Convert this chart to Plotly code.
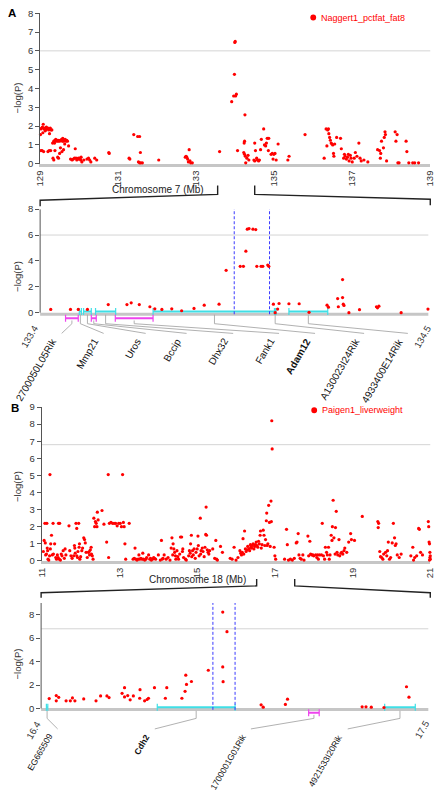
import plotly.graph_objects as go

# ---------------- DATA ----------------
# Panel A, overview (Chromosome 7, Mb) : Naggert1_pctfat_fat8
a_top_mb = [129.01,129.02,129.04,129.06,129.08,129.1,129.12,129.14,129.16,129.18,129.2,129.22,129.24,129.26,129.28,129.3,129.07,129.13,
            129.02,129.05,129.09,129.2,129.23,129.27,
            129.32,129.35,129.37,129.38,129.4,129.42,129.44,129.46,129.48,129.5,129.53,129.55,129.57,129.58,129.6,129.62,129.64,129.66,129.68,129.7,129.73,
            129.33,129.35,129.38,129.45,129.47,129.5,129.52,129.56,129.6,129.63,
            129.78,129.82,129.85,129.88,129.9,129.92,129.94,129.96,129.98,130.0,130.02,130.04,130.05,130.07,130.12,130.2,130.24,130.27,130.3,130.4,130.45,130.76,130.77,
            131.28,131.3,131.4,131.5,131.55,131.57,131.52,131.55,131.58,131.62,132.04,
            132.72,132.74,132.76,132.78,132.8,132.82,132.84,132.86,132.9,
            133.6,133.91,133.96,133.98,133.99,134.0,134.01,134.03,134.06,
            134.23,134.25,134.24,134.22,134.24,134.26,134.3,134.33,134.35,134.27,
            134.5,134.52,134.55,134.57,134.6,134.48,134.5,134.62,134.65,134.67,134.73,134.75,134.78,134.8,134.82,134.86,134.85,134.92,134.95,134.97,134.99,135.02,135.05,135.1,135.35,135.38,
            135.79,
            136.28,136.33,136.35,136.37,136.39,136.4,136.42,136.44,136.46,136.48,136.5,136.52,136.53,136.55,136.6,136.7,136.72,136.78,136.8,136.82,136.85,136.88,136.9,136.92,136.95,136.97,137.0,137.05,137.08,137.12,137.17,137.2,137.23,137.3,137.4,
            137.65,137.7,137.72,137.73,137.75,137.8,137.82,137.84,137.85,137.88,138.1,138.12,138.15,138.17,138.2,138.38,138.4,138.45,138.55,138.6,138.7]
a_top_logp = [1.55,1.85,1.9,1.95,2.1,1.85,1.9,1.8,1.95,1.85,1.9,1.8,1.6,1.9,1.8,1.8,1.65,1.75,
              0.7,0.7,0.65,0.65,0.7,0.7,
              1.1,1.2,1.1,1.25,1.3,1.2,1.25,1.2,1.25,1.2,1.25,1.3,1.2,1.35,1.2,1.25,1.3,1.2,1.25,1.2,0.95,
              0.3,0.2,0.7,0.35,0.3,0.55,0.85,0.65,0.75,1.05,
              0.25,0.2,0.25,0.3,0.8,0.3,0.2,0.25,0.3,0.25,0.3,0.2,0.35,0.1,0.2,0.25,0.3,0.2,0.1,0.3,0.2,0.6,0.55,
              0.3,0.25,1.55,1.45,1.45,0.6,0.1,0.05,0.05,0.05,0.2,
              0.35,0.4,0.35,0.25,0.1,0.75,0.15,0.05,0.05,
              0.65,3.3,3.6,4.75,6.45,6.5,3.6,3.7,0.7,
              1.1,2.6,1.2,0.6,0.5,0.4,0.3,0.45,0.2,0.05,
              1.1,0.7,0.3,0.2,0.15,0.2,0.15,0.2,0.75,1.3,1.85,1.0,0.95,1.1,1.35,1.35,0.7,0.5,0.55,0.25,0.5,0.55,0.2,1.05,0.2,0.4,
              1.55,
              0.3,1.85,0.95,1.8,1.85,1.6,1.4,1.25,1.1,1.05,1.0,0.55,0.4,1.05,1.4,1.35,0.8,0.3,0.5,0.4,0.25,0.35,0.5,0.15,0.45,0.3,0.1,0.3,0.6,0.4,1.1,0.3,0.15,0.2,0.1,
              0.75,0.7,0.3,0.55,1.2,0.85,1.4,1.7,1.55,0.15,1.7,1.2,1.55,0.05,0.05,1.2,0.65,0.05,0.05,0.05,0.05]

# Panel A, zoom 133.4-134.5 Mb
a_zoom_mb = [133.43,133.486,133.508,133.534,133.593,133.646,133.658,133.681,133.711,133.725,133.745,133.773,133.801,133.836,133.865,133.907,
             133.927,133.967,133.976,133.983,133.987,133.992,134.003,134.011,134.014,134.026,134.031,134.045,134.048,
             134.061,134.066,134.073,134.077,134.105,134.134,134.162,134.213,134.217,134.243,134.257,134.257,134.259,134.261,134.245,134.275,134.305,134.353,134.356,134.36,134.423,134.499]
a_zoom_logp = [0.25,0.25,0.25,0.25,0.63,0.63,0.76,0.63,0.46,0.3,0.25,0.3,0.15,0.33,0.58,0.66,
               3.27,3.58,3.58,4.75,6.45,6.5,6.45,6.42,3.58,3.58,3.58,3.68,3.58,
               0.66,0.0,0.28,0.71,0.69,0.69,0.03,0.58,0.43,1.09,1.17,2.56,0.66,0.56,0.46,0.0,0.23,0.46,0.38,0.5,0.0,0.28]

a_gene_names = ["2700050L05Rik","Mmp21","Uros","Bccip","Dhx32","Fank1","Adam12","A130023I24Rik","4933400E14Rik"]
a_gene_start = [133.472,133.511,133.523,133.545,133.557,133.613,133.720,134.064,134.105]
a_gene_end   = [133.508,133.517,133.545,133.559,133.614,133.720,134.068,134.068,134.215]
a_gene_strand = ["-","+","+","-","+","-","+","+","+"]
a_gene_bold = ["Adam12"]
a_interval = [133.95, 134.05]
a_threshold = 6.0

# Panel B, overview (Chromosome 18, Mb) : Paigen1_liverweight
b_top = [(11.04,0.55),(11.06,1.2),(11.08,2.2),(11.09,1.05),(11.1,0.35),(11.12,0.4),(11.13,2.2),(11.14,0.75),(11.15,0.6),(11.16,0.1),(11.18,0.05),(11.2,0.3),(11.21,5.05),(11.22,0.7),(11.23,1.0),(11.25,1.5),(11.27,0.35),(11.29,2.2),(11.3,0.4),(11.33,1.0),(11.36,0.2),(11.38,0.1),(11.4,0.35),(11.42,0.2),(11.43,2.2),(11.45,0.1),(11.46,2.2),(11.48,0.05),(11.5,0.4),(11.52,0.3),(11.55,0.6),(11.58,0.15),(11.6,0.7),(11.62,0.35),(11.7,2.05),(11.72,0.6),(11.75,0.3),(11.78,0.15),
         (11.82,0.3),(11.84,0.9),(11.85,0.75),(11.86,0.45),(11.88,2.2),(11.9,1.9),(11.9,0.3),(11.92,0.2),(11.93,0.55),(11.95,2.2),(11.96,0.8),(11.97,1.0),(11.98,0.1),(12.0,0.25),(12.03,0.6),(12.05,0.75),(12.08,1.35),(12.1,1.25),(12.12,1.05),(12.14,0.5),(12.17,0.2),(12.2,0.5),(12.22,0.55),(12.23,0.35),(12.25,0.65),(12.27,0.8),(12.28,0.4),(12.3,0.3),(12.32,0.1),
         (12.34,2.5),(12.36,2.0),(12.38,2.3),(12.4,2.2),(12.42,2.0),(12.43,2.85),(12.45,2.4),(12.55,2.95),(12.6,2.15),(12.67,1.1),(12.71,5.05),(12.72,0.2),(12.74,2.2),(12.78,2.25),(12.82,2.2),(12.86,2.2),(12.9,2.2),(12.94,2.05),(12.98,2.2),(13.02,2.2),(13.05,2.0),(13.08,5.05),(13.1,2.25),(13.12,2.0),(13.14,1.0),(13.16,0.1),(13.25,2.2),
         (13.35,0.1),(13.38,0.15),(13.4,0.75),(13.42,0.1),(13.45,0.05),(13.48,0.1),(13.5,0.35),(13.52,0.1),(13.55,0.15),(13.58,0.1),(13.6,0.45),(13.62,0.1),(13.65,0.05),(13.68,0.1),(13.7,0.2),(13.75,0.35),(13.78,0.1),(13.8,0.15),(13.82,0.05),(13.85,0.1),(13.88,0.2),(13.9,0.15),(13.93,0.1),(14.0,0.35),
         (14.05,0.05),(14.08,1.2),(14.1,0.1),(14.12,0.15),(14.15,0.35),(14.2,0.1),(14.25,0.2),(14.3,0.05),(14.33,0.75),(14.35,1.35),(14.37,0.35),(14.38,1.0),(14.4,0.7),(14.42,0.5),(14.44,0.3),(14.45,0.1),(14.48,0.6),(14.5,0.25),(14.52,0.1),(14.55,0.4),(14.57,1.4),(14.6,1.4),(14.62,0.55),(14.63,0.7),(14.65,0.2),(14.7,0.1),(14.72,0.05),
         (14.78,0.3),(14.8,0.6),(14.82,0.45),(14.83,1.0),(14.85,1.5),(14.86,0.25),(14.88,0.6),(14.9,0.35),(14.92,0.7),(14.95,0.15),(14.97,0.5),(15.0,0.7),(15.02,1.45),(15.03,0.9),(15.05,0.3),(15.08,2.5),(15.09,0.4),(15.1,0.6),(15.13,0.75),(15.15,0.55),(15.18,0.25),(15.2,0.8),(15.22,1.55),(15.23,3.15),(15.24,1.5),(15.26,0.65),(15.28,0.5),(15.3,0.4),(15.32,0.6),
         (15.4,0.7),(15.45,0.15),(15.48,1.2),(15.5,0.1),(15.52,0.05),(15.6,0.85),(15.65,0.5),
         (15.85,0.15),(15.9,0.1),(15.95,0.8),(16.0,0.05),(16.05,0.2),(16.1,0.6),(16.12,0.45),(16.14,0.35),(16.16,0.5),(16.18,1.3),(16.2,0.4),(16.22,1.75),(16.24,0.7),(16.26,0.55),(16.28,0.65),(16.3,0.85),(16.33,0.7),(16.35,0.6),(16.37,0.95),(16.38,0.8),(16.4,0.75),(16.42,0.9),(16.44,1.0),(16.46,0.7),(16.48,0.85),(16.5,0.95),(16.52,1.1),(16.54,0.9),(16.56,0.8),(16.58,1.15),(16.6,1.0),(16.62,1.5),(16.63,1.75),(16.65,0.75),(16.67,0.95),(16.7,1.8),(16.72,1.5),(16.74,0.9),(16.76,1.25),(16.78,2.35),(16.79,2.8),(16.8,0.9),(16.82,1.0),(16.84,3.25),(16.86,2.25),(16.88,0.85),(16.92,8.2),(16.93,6.55),(16.9,3.5),(16.91,2.3),(16.98,0.8),(17.0,0.3),(17.02,0.1),
         (17.3,1.85),(17.32,0.95),(17.25,0.1),(17.35,0.05),(17.4,0.1),(17.45,0.05),(17.5,0.15),(17.55,1.05),(17.57,1.1),(17.6,1.6),(17.62,0.35),(17.65,0.15),(17.68,0.1),(17.72,0.35),(17.75,0.05),(17.85,1.45),(17.87,0.3),(17.9,1.15),(17.92,0.4),(17.95,0.35),(17.98,0.35),(18.0,0.3),(18.05,0.35),(18.08,0.2),(18.1,0.35),(18.12,0.1),(18.15,0.35),(18.2,0.35),(18.22,2.2),(18.25,0.3),(18.28,0.1),(18.3,0.8),(18.33,0.5),(18.35,0.35),(18.38,0.8),(18.4,0.1),(18.42,0.35),(18.45,1.5),(18.47,1.2),(18.48,2.0),(18.5,3.55),(18.52,1.35),(18.55,0.4),(18.56,1.95),(18.58,2.9),(18.6,0.5),(18.62,0.35),(18.65,1.25),(18.67,0.3),(18.7,0.45),(18.72,0.5),(18.75,0.4),(18.78,0.6),(18.8,0.75),(18.85,0.5),(18.9,1.1),(18.95,1.6),(18.97,1.25),(19.05,1.2),(19.25,2.6),
         (19.65,2.3),(19.67,2.2),(19.66,1.95),(19.7,0.55),(19.72,0.25),(19.75,0.2),(19.78,0.1),(19.8,0.4),(19.85,0.5),(19.88,0.3),(19.9,0.6),(19.92,1.1),(19.95,0.1),(19.98,0.2),(20.02,1.05),(20.05,2.2),(20.08,1.35),(20.1,0.9),(20.12,1.0),(20.15,0.35),(20.2,0.2),(20.25,0.4),(20.5,0.3),(20.55,0.8),(20.57,0.05),(20.6,0.2),(20.65,0.3),(20.7,1.9),(20.72,1.85),(20.75,0.5),(20.8,0.35),(20.95,2.3),(20.96,2.0),(20.97,1.1),(20.98,1.0),(20.99,0.5),(21.0,0.3),(20.99,0.2),(21.0,0.1),(20.98,0.05)]
b_top_mb = [p[0] for p in b_top]
b_top_logp = [p[1] for p in b_top]

# Panel B, zoom 16.4-17.5 Mb
b_zoom_mb = [16.423,16.443,16.443,16.45,16.471,16.483,16.489,16.496,16.521,16.556,16.569,16.587,16.593,16.63,16.637,16.637,16.646,16.653,16.662,16.681,16.68,16.694,16.701,16.705,
             16.722,16.753,16.757,16.8,16.809,16.811,16.813,16.827,16.875,16.916,16.916,16.917,16.928,
             17.025,17.031,17.094,17.1,17.312,17.323,17.338,17.374,17.438,17.445]
b_zoom_logp = [0.84,1.1,0.65,0.95,0.65,0.65,0.9,0.65,0.81,0.65,1.07,1.07,0.93,1.29,1.77,0.98,1.1,0.73,1.07,1.6,0.87,0.65,0.76,0.87,
               1.77,0.87,1.77,0.87,1.46,2.84,2.05,2.3,3.26,8.23,3.54,2.28,6.55,
               0.31,0.11,0.34,0.79,0.14,0.14,0.11,0.08,1.85,0.96]

b_gene_names = ["EG665509","Cdh2","1700001G01Rik","4921533I20Rik"]
b_gene_start = [16.415,16.730,17.160,17.376]
b_gene_end   = [16.419,16.951,17.190,17.463]
b_gene_strand = ["+","+","-","+"]
b_gene_bold = ["Cdh2"]
b_interval = [16.888, 16.951]
b_threshold = 6.8

a_ticks_top = [129,131,133,135,137,139]
b_ticks_top = [11,13,15,17,19,21]
a_zoom_ticks = [133.4, 134.5]
b_zoom_ticks = [16.4, 17.5]

# ---------------- LAYOUT HELPERS ----------------
W, H = 446, 794
FONT = "Liberation Sans, Arial, Helvetica, sans-serif"
def fx(px): return px / W
def fy(py): return 1 - py / H

RED = "#ff0000"
CYAN = "#3fdfe6"
MAG = "#ee44ee"
GRID = "#d4d4d4"
BASE = "#c6c6c6"
CONN = "#a8a8a8"
BLUE = "#3a3aff"

# label anchor positions (layout) in zoom-axis units
a_label_x = [133.461,133.580,133.699,133.815,133.947,134.077,134.179,134.318,134.442]
b_label_x = [16.447,16.723,16.996,17.271]

fig = go.Figure()

def add_points(x, y, xa, ya, name):
    fig.add_trace(go.Scatter(x=x, y=y, xaxis=xa, yaxis=ya, mode="markers", name=name,
                             marker=dict(color=RED, size=3.2, line=dict(width=0)),
                             cliponaxis=False, showlegend=False, hoverinfo="x+y"))

add_points(a_top_mb, a_top_logp, "x", "y", "Naggert1_pctfat_fat8")
add_points(b_top_mb, b_top_logp, "x3", "y3", "Paigen1_liverweight")

def add_genes(starts, ends, strands, xa, ya, yplus, yminus):
    for strand, col in (("+", CYAN), ("-", MAG)):
        xs, ys = [], []
        yy = yplus if strand == "+" else yminus
        for s, e, st in zip(starts, ends, strands):
            if st == strand:
                xs += [s, e, None]
                ys += [yy, yy, None]
        fig.add_trace(go.Scatter(x=xs, y=ys, xaxis=xa, yaxis=ya, mode="lines+markers",
                                 line=dict(color=col, width=2),
                                 marker=dict(symbol="line-ns-open", size=5, line=dict(color=col, width=1.2)),
                                 showlegend=False, hoverinfo="skip"))

def add_connectors(starts, ends, strands, label_x, xa, ya, y_top_plus, y_top_minus, y_knee, y_end):
    xs, ys = [], []
    for s, e, st, lx in zip(starts, ends, strands, label_x):
        m = (s + e) / 2
        y0 = y_top_plus if st == "+" else y_top_minus
        xs += [m, m, lx, None]
        ys += [y0, y_knee, y_end, None]
    fig.add_trace(go.Scatter(x=xs, y=ys, xaxis=xa, yaxis=ya, mode="lines",
                             line=dict(color=CONN, width=0.9), showlegend=False, hoverinfo="skip"))

def add_interval(iv, xa, ya, ytop):
    xs, ys = [], []
    for v in iv:
        xs += [v, v, None]
        ys += [-0.12, ytop, None]
    fig.add_trace(go.Scatter(x=xs, y=ys, xaxis=xa, yaxis=ya, mode="lines",
                             line=dict(color=BLUE, width=1, dash="3px,2px"),
                             showlegend=False, hoverinfo="skip"))

# zoom panels: connectors, genes, interval, points
add_connectors(a_gene_start, a_gene_end, a_gene_strand, a_label_x, "x2", "y2", -0.15, -0.6, -0.85, -1.6)
add_connectors(b_gene_start, b_gene_end, b_gene_strand, b_label_x, "x4", "y4", -0.2, -0.55, -0.85, -1.75)
add_genes(a_gene_start, a_gene_end, a_gene_strand, "x2", "y2", 0.1, -0.43)
add_genes(b_gene_start, b_gene_end, b_gene_strand, "x4", "y4", 0.1, -0.37)
add_interval(a_interval, "x2", "y2", 8.05)
add_interval(b_interval, "x4", "y4", 9)
add_points(a_zoom_mb, a_zoom_logp, "x2", "y2", "Naggert1_pctfat_fat8")
add_points(b_zoom_mb, b_zoom_logp, "x4", "y4", "Paigen1_liverweight")

# ---------------- AXES ----------------
tickfont = dict(family=FONT, size=9.5, color="#333")
def yax(dom, rng, tv, spine):
    return dict(domain=dom, range=rng, tickvals=tv, ticks="outside", ticklen=4, tickcolor="#555",
                tickwidth=1, showline=spine, linecolor="#555", linewidth=1, showgrid=False,
                zeroline=False, tickfont=tickfont, fixedrange=True)
def xtop(dom, rng, tv):
    return dict(domain=dom, range=rng, tickvals=tv, ticks="", tickangle=-90, showline=True,
                linecolor=BASE, linewidth=3, showgrid=False, zeroline=False, tickfont=tickfont,
                layer="below traces", fixedrange=True)
def xzoom(dom, rng):
    return dict(domain=dom, range=rng, visible=False, fixedrange=True)

fig.update_layout(
    xaxis=dict(xtop([fx(35), fx(435)], [129, 139], a_ticks_top), anchor="y"),
    yaxis=dict(yax([fy(160), fy(7.3)], [0, 8], list(range(0, 9)), True), anchor="x"),
    xaxis2=dict(xzoom([fx(35), fx(433)], [133.4, 134.5]), anchor="y2"),
    yaxis2=dict(yax([fy(337.25), fy(206)], [-2, 8], [0, 2, 4, 6, 8], False), anchor="x2"),
    xaxis3=dict(xtop([fx(36.7), fx(435)], [11, 21], b_ticks_top), anchor="y3"),
    yaxis3=dict(yax([fy(562.7), fy(406.7)], [0, 9], list(range(0, 10)), True), anchor="x3"),
    xaxis4=dict(xzoom([fx(36), fx(433)], [16.4, 17.5]), anchor="y4"),
    yaxis4=dict(yax([fy(736.05), fy(605.4)], [-2, 9], [0, 2, 4, 6, 8], False), anchor="x4"),
)

shapes = []
# threshold lines
for xa, ya, t in (("x", "y", a_threshold), ("x2", "y2", a_threshold), ("x3", "y3", b_threshold), ("x4", "y4", b_threshold)):
    shapes.append(dict(type="line", xref=f"{xa} domain", yref=ya, x0=0, x1=1, y0=t, y1=t,
                       line=dict(color=GRID, width=1), layer="below"))
# zoom panel baselines and spines
for xa, ya, yb, ytop in (("x2", "y2", -0.12, 8), ("x4", "y4", -0.1, 9)):
    shapes.append(dict(type="line", xref=f"{xa} domain", yref=ya, x0=0, x1=1, y0=yb, y1=yb,
                       line=dict(color=BASE, width=3), layer="below"))
    shapes.append(dict(type="line", xref=f"{xa} domain", yref=ya, x0=0, x1=0, y0=0, y1=ytop,
                       line=dict(color="#555", width=1)))
# zoom brackets (decoration, pixel layout)
for pts in ([(217, 182), (217, 191), (35, 197), (35, 203)],
            [(255, 182), (255, 191), (435, 196), (435, 202)],
            [(257, 581), (257, 588), (36, 595), (36, 600)],
            [(296, 581), (296, 588), (435, 595), (435, 600)]):
    path = "M " + " L ".join(f"{fx(px):.5f},{fy(py):.5f}" for px, py in pts)
    shapes.append(dict(type="path", xref="paper", yref="paper", path=path,
                       line=dict(color="#222", width=1.4)))
# legend dots
for px, py in ((315, 11.7), (316, 410)):
    r = 3
    shapes.append(dict(type="circle", xref="paper", yref="paper", x0=fx(px - r), x1=fx(px + r),
                       y0=fy(py + r), y1=fy(py - r), fillcolor=RED, line=dict(width=0)))

ann = []
def txt(text, px, py, size=10, color="#222", angle=0, xanchor="center", yanchor="middle", bold=False):
    ann.append(dict(text=(f"<b>{text}</b>" if bold else text), x=fx(px), y=fy(py), xref="paper", yref="paper",
                    showarrow=False, textangle=angle, xanchor=xanchor, yanchor=yanchor,
                    font=dict(family=FONT, size=size, color=color)))

txt("A", 6, 7.5, size=11.5, color="#000", bold=True)
txt("B", 9, 407.5, size=11.5, color="#000", bold=True)
txt("Naggert1_pctfat_fat8", 321, 11.7, size=9, color=RED, xanchor="left")
txt("Paigen1_liverweight", 322, 410, size=9, color=RED, xanchor="left")
txt("Chromosome 7 (Mb)", 155.5, 186, size=10)
txt("Chromosome 18 (Mb)", 196.5, 582, size=10)
for py in (93, 274, 487, 667):
    txt("\u2212log(P)", 12, py, size=9.5, color="#333", angle=-90)

def gene_labels(names, lx, bold, xa, ya, y, size):
    for n, x in zip(names, lx):
        ann.append(dict(text=(f"<b>{n}</b>" if n in bold else n), x=x, y=y, xref=xa, yref=ya,
                        showarrow=False, textangle=-60, xanchor="right", yanchor="top",
                        font=dict(family=FONT, size=size, color="#111")))
gene_labels(a_gene_names, a_label_x, a_gene_bold, "x2", "y2", -1.62, 10)
gene_labels(b_gene_names, b_label_x, b_gene_bold, "x4", "y4", -1.8, 8.6)

def zoom_ticks(ticks, xa, ya, y, shifts):
    for t, sh in zip(ticks, shifts):
        ann.append(dict(text=f"{t:g}", x=t, y=y, xref=xa, yref=ya, showarrow=False, textangle=-60,
                        xanchor="right", yanchor="top", xshift=sh, font=tickfont))
zoom_ticks(a_zoom_ticks, "x2", "y2", -0.65, [3, 8])
zoom_ticks(b_zoom_ticks, "x4", "y4", -0.65, [5, 6])

fig.update_layout(
    width=W, height=H, margin=dict(l=0, r=0, t=0, b=0),
    paper_bgcolor="white", plot_bgcolor="white", showlegend=False,
    shapes=shapes, annotations=ann, font=dict(family=FONT),
)

fig.write_html("out.html", config={"displayModeBar": False},
               post_script="document.body.style.margin='0';document.body.style.overflow='hidden';")
